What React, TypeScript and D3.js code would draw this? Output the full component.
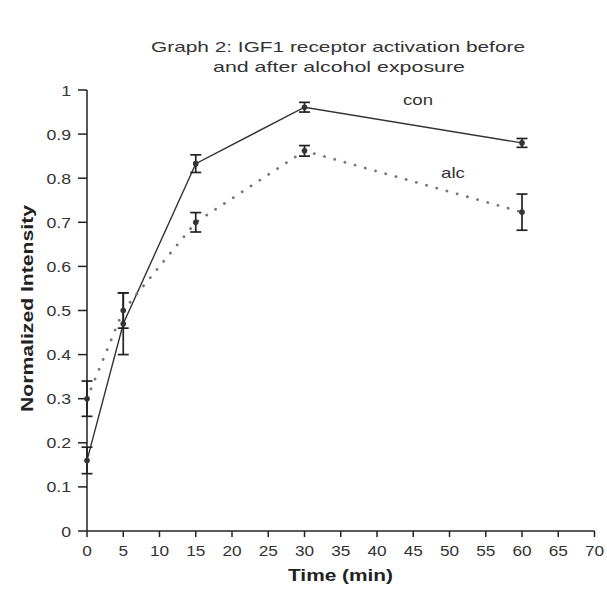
import React from "react";
import * as d3 from "d3";

const times = [0, 5, 15, 30, 60];
const conMean = [0.16, 0.47, 0.833, 0.961, 0.88];
const conErr = [0.03, 0.07, 0.02, 0.011, 0.01];
const alcMean = [0.3, 0.5, 0.7, 0.862, 0.723];
const alcErr = [0.04, 0.04, 0.022, 0.012, 0.041];
const xTicks = [0, 5, 10, 15, 20, 25, 30, 35, 40, 45, 50, 55, 60, 65, 70];
const yTicks = [0, 0.1, 0.2, 0.3, 0.4, 0.5, 0.6, 0.7, 0.8, 0.9, 1];
const titleLines = ["Graph 2:  IGF1 receptor activation before", "and after alcohol exposure"];

const W = 607;
const H = 595;
const FONT = "'Liberation Sans', Arial, Helvetica, sans-serif";

export default function App() {
  const x = d3.scaleLinear().domain([0, 70]).range([87, 594.5]);
  const y = d3.scaleLinear().domain([0, 1]).range([531, 90]);

  const line = d3
    .line<number>()
    .x((_, i) => x(times[i]))
    .y((d) => y(d));

  const ink = "#222";
  const textCol = "#333";

  const errBars = (means: number[], errs: number[], key: string) =>
    means.map((m, i) => {
      const cx = x(times[i]);
      const lo = y(m - errs[i]);
      const hi = y(m + errs[i]);
      return (
        <g key={key + i} stroke={ink} strokeWidth={1.7} fill="none">
          <line x1={cx} x2={cx} y1={lo} y2={hi} />
          <line x1={cx - 5.5} x2={cx + 5.5} y1={lo} y2={lo} />
          <line x1={cx - 5.5} x2={cx + 5.5} y1={hi} y2={hi} />
        </g>
      );
    });

  const markers = (means: number[], key: string) =>
    means.map((m, i) => (
      <circle key={key + i} cx={x(times[i])} cy={y(m)} r={2.8} fill="#333" />
    ));

  return (
    <svg width={W} height={H} style={{ display: "block", position: "absolute", left: 0, top: 0 }}>
      <rect x={0} y={0} width={W} height={H} fill="#fff" />
      {/* title */}
      <g fontFamily={FONT} fontSize={15} fill={textCol} textAnchor="middle" style={{ whiteSpace: "pre" }}>
        <text x={338} y={52} textLength={374} lengthAdjust="spacingAndGlyphs">
          {titleLines[0]}
        </text>
        <text x={339} y={72} textLength={252} lengthAdjust="spacingAndGlyphs">
          {titleLines[1]}
        </text>
      </g>

      {/* axes */}
      <g stroke={ink} strokeWidth={1.5} fill="none">
        <line x1={x(0)} x2={x(0)} y1={y(1)} y2={y(0)} />
        <line x1={x(0)} x2={x(70)} y1={y(0)} y2={y(0)} />
        {yTicks.map((t) => (
          <line key={"yt" + t} x1={x(0) - 9} x2={x(0)} y1={y(t)} y2={y(t)} />
        ))}
        {xTicks.map((t) => (
          <line key={"xt" + t} x1={x(t)} x2={x(t)} y1={y(0)} y2={y(0) + 6} />
        ))}
      </g>

      {/* tick labels */}
      <g fontFamily={FONT} fontSize={15} fill={textCol}>
        {yTicks.map((t) => (
          <text
            key={"yl" + t}
            textAnchor="end"
            transform={`translate(${x(0) - 16},${y(t) + 5.5}) scale(1.18,1)`}
          >
            {d3.format("~g")(t)}
          </text>
        ))}
        {xTicks.map((t) => (
          <text
            key={"xl" + t}
            textAnchor="middle"
            transform={`translate(${x(t)},${y(0) + 24.5}) scale(1.15,1)`}
          >
            {t}
          </text>
        ))}
      </g>

      {/* axis titles */}
      <g fontFamily={FONT} fontSize={16} fontWeight="bold" fill="#222" textAnchor="middle">
        <text x={340.5} y={581} textLength={105} lengthAdjust="spacingAndGlyphs">
          Time (min)
        </text>
        <text
          transform="translate(33,308.5) rotate(-90)"
          textLength={207}
          lengthAdjust="spacingAndGlyphs"
        >
          Normalized Intensity
        </text>
      </g>

      {/* series lines */}
      <path d={line(conMean) || ""} fill="none" stroke="#333" strokeWidth={1.4} />
      <path
        d={line(alcMean) || ""}
        fill="none"
        stroke="#777"
        strokeWidth={2.8}
        strokeDasharray="0.1,10.5"
        strokeLinecap="round"
      />

      {errBars(conMean, conErr, "ce")}
      {errBars(alcMean, alcErr, "ae")}
      {markers(conMean, "cm")}
      {markers(alcMean, "am")}

      {/* series labels */}
      <g fontFamily={FONT} fontSize={15} fill={textCol} textAnchor="middle">
        <text x={418} y={105} textLength={30} lengthAdjust="spacingAndGlyphs">
          con
        </text>
        <text x={453} y={178} textLength={24} lengthAdjust="spacingAndGlyphs">
          alc
        </text>
      </g>
    </svg>
  );
}
